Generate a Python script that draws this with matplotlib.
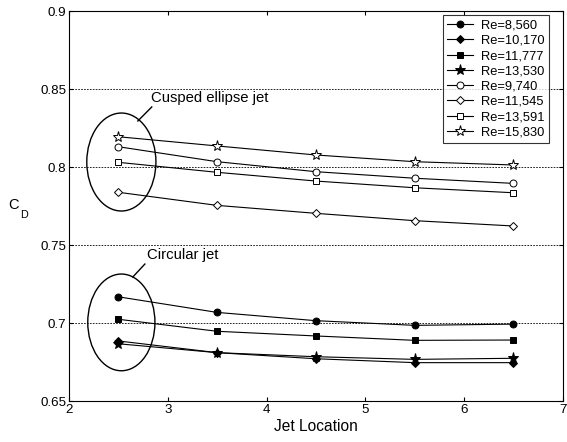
import matplotlib
matplotlib.use("Agg")
import matplotlib.pyplot as plt
from matplotlib.patches import Ellipse

plt.rcParams["font.family"] = ["Liberation Sans", "DejaVu Sans"]

# jet locations
jet_location = [2.5, 3.5, 4.5, 5.5, 6.5]

# circular jet (filled markers)
re_8560 = [0.717, 0.707, 0.7017, 0.6987, 0.6995]
re_10170 = [0.6887, 0.6812, 0.6773, 0.6748, 0.6748]
re_11777 = [0.7026, 0.6949, 0.6919, 0.6891, 0.6893]
re_13530 = [0.6869, 0.6812, 0.6786, 0.6769, 0.6776]

# cusped ellipse jet (open markers)
re_9740 = [0.8132, 0.8036, 0.7972, 0.7930, 0.7897]
re_11545 = [0.7840, 0.7756, 0.7705, 0.7658, 0.7624]
re_13591 = [0.8032, 0.7968, 0.7912, 0.7869, 0.7837]
re_15830 = [0.8196, 0.8137, 0.8079, 0.8036, 0.8015]

series = [
    ("Re=8,560", re_8560, "o", "k"),
    ("Re=10,170", re_10170, "D", "k"),
    ("Re=11,777", re_11777, "s", "k"),
    ("Re=13,530", re_13530, "*", "k"),
    ("Re=9,740", re_9740, "o", "w"),
    ("Re=11,545", re_11545, "D", "w"),
    ("Re=13,591", re_13591, "s", "w"),
    ("Re=15,830", re_15830, "*", "w"),
]

fig = plt.figure(figsize=(5.67, 4.42), dpi=100)
ax = fig.add_axes([0.1217, 0.092, 0.871, 0.8824])

for label, vals, marker, face in series:
    size = 5
    if marker == "D":
        size = 4
    elif marker == "*":
        size = 8
    ax.plot(jet_location, vals, color="k", linewidth=0.8, marker=marker,
            markersize=size, markerfacecolor=face, markeredgecolor="k",
            markeredgewidth=0.7, label=label)

ax.set_xlim(2, 7)
ax.set_ylim(0.65, 0.9)
ax.set_xticks([2, 3, 4, 5, 6, 7])
ax.set_yticks([0.65, 0.7, 0.75, 0.8, 0.85, 0.9])
ax.set_xticklabels(["2", "3", "4", "5", "6", "7"])
ax.set_yticklabels(["0.65", "0.7", "0.75", "0.8", "0.85", "0.9"])
ax.tick_params(direction="in", top=True, right=True, labelsize=9.6, length=3, pad=2)
ax.yaxis.grid(True, linestyle=(0, (2, 1.5)), color="k", linewidth=0.6)
ax.set_axisbelow(True)
for sp in ax.spines.values():
    sp.set_linewidth(0.8)

ax.set_xlabel("Jet Location", fontsize=11.2, labelpad=2)
# C_D label, subscript set well below like the original
fig.text(8 / 567, 1 - 205 / 442, "C", fontsize=10.5, ha="left", va="center")
fig.text(20.5 / 567, 1 - 214.5 / 442, "D", fontsize=7.8, ha="left", va="center")

# ellipses around the groups
ax.add_patch(Ellipse((2.53, 0.8034), 0.70, 0.0628, fill=False, edgecolor="k", linewidth=1.0))
ax.add_patch(Ellipse((2.53, 0.7006), 0.68, 0.062, fill=False, edgecolor="k", linewidth=1.0))

ax.plot([2.697, 2.838], [0.8297, 0.8387], color="k", linewidth=1.0)
ax.text(2.83, 0.8444, "Cusped ellipse jet", fontsize=10.7, va="center", ha="left")
ax.plot([2.646, 2.768], [0.7297, 0.738], color="k", linewidth=1.0)
ax.text(2.785, 0.7438, "Circular jet", fontsize=10.7, va="center", ha="left")

leg = ax.legend(loc="upper right", bbox_to_anchor=(0.9717, 0.9905), fontsize=9.3,
                frameon=True, fancybox=False, edgecolor="k", handlelength=2.0,
                handletextpad=0.6, borderpad=0.35, labelspacing=0.25,
                borderaxespad=0.0)
leg.get_frame().set_linewidth(0.8)

fig.savefig("out.png", dpi=100)
